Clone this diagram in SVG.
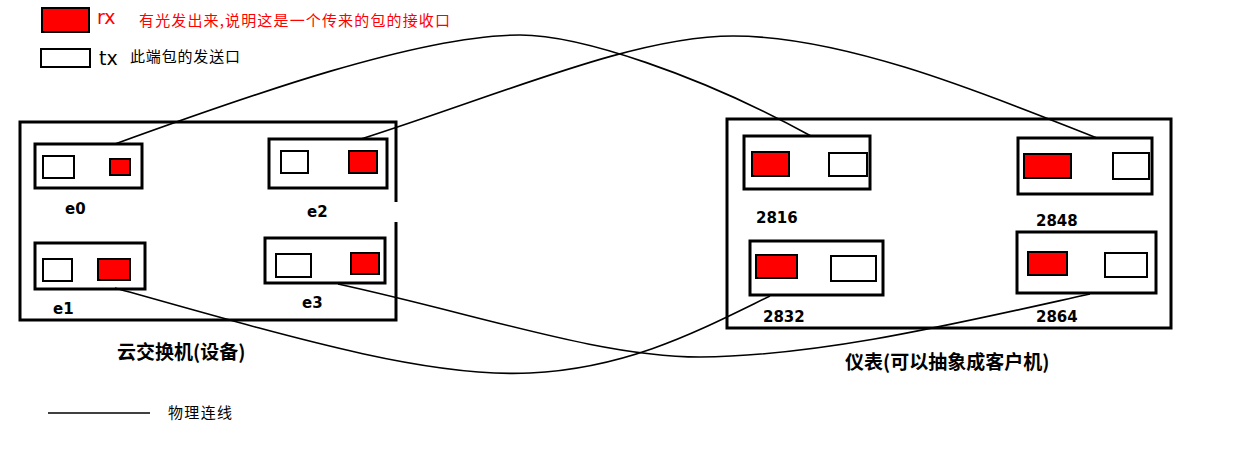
<svg xmlns="http://www.w3.org/2000/svg" width="1257" height="476" viewBox="0 0 1257 476">
<style>
.box{fill:#fff;stroke:#000;stroke-width:3}
.tx{fill:#fff;stroke:#000;stroke-width:2}
.rx{fill:#f00;stroke:#000;stroke-width:2}
.lbl{font-family:"DejaVu Sans",sans-serif;font-weight:bold;font-size:15px;fill:#000}
.cjk{font-family:"Noto Sans CJK SC",sans-serif;font-size:15px}
.title{font-family:"Noto Sans CJK SC",sans-serif;font-size:19px;font-weight:bold}
.wire{fill:none;stroke:#000;stroke-width:1.6}
</style>
<rect width="1257" height="476" fill="#fff"/>
<g id="legend">
<rect class="rx" x="42" y="8" width="47" height="24"/>
<text x="97" y="24" font-family="DejaVu Sans,sans-serif" font-size="19" fill="#f00">rx</text>
<text x="139" y="26" class="cjk" font-size="16" fill="#f00" textLength="311" lengthAdjust="spacing">有光发出来,说明这是一个传来的包的接收口</text>
<rect class="tx" x="41" y="49" width="49" height="18"/>
<text x="99" y="65" font-family="DejaVu Sans,sans-serif" font-size="19" fill="#000">tx</text>
<text x="130" y="62" class="cjk" font-size="16" fill="#000" textLength="110" lengthAdjust="spacing">此端包的发送口</text>
<line x1="48" y1="413" x2="150" y2="413" stroke="#000" stroke-width="1.6"/>
<text x="168" y="418" class="cjk" font-size="16" fill="#000" textLength="64" lengthAdjust="spacing">物理连线</text>
</g>
<g id="switch">
<path d="M396,202 V122 H20 V320 H396 V222" fill="none" stroke="#000" stroke-width="3"/>
<text x="117" y="359" class="title">云交换机(设备)</text>
</g>
<g id="e0">
<rect class="box" x="35" y="144" width="107" height="44"/>
<rect class="tx" x="43" y="156" width="31" height="22"/>
<rect class="rx" x="110" y="159" width="20" height="16"/>
<text x="65" y="214" class="lbl">e0</text>
</g>
<g id="e2">
<rect class="box" x="269" y="139" width="118" height="49"/>
<rect class="tx" x="281" y="151" width="27" height="22"/>
<rect class="rx" x="349" y="151" width="28" height="22"/>
<text x="307" y="217" class="lbl">e2</text>
</g>
<g id="e1">
<rect class="box" x="35" y="243" width="110" height="46"/>
<rect class="tx" x="43" y="259" width="29" height="22"/>
<rect class="rx" x="98" y="259" width="32" height="21"/>
<text x="53" y="314" class="lbl">e1</text>
</g>
<g id="e3">
<rect class="box" x="265" y="238" width="120" height="45"/>
<rect class="tx" x="276" y="254" width="35" height="23"/>
<rect class="rx" x="351" y="253" width="28" height="21"/>
<text x="302" y="308" class="lbl">e3</text>
</g>
<g id="meter">
<rect x="727" y="119" width="444" height="209" fill="none" stroke="#000" stroke-width="3"/>
<text x="845" y="369" class="title">仪表(可以抽象成客户机)</text>
</g>
<g id="p2816">
<rect class="box" x="744" y="136" width="126" height="53"/>
<rect class="rx" x="752" y="152" width="37" height="24"/>
<rect class="tx" x="829" y="153" width="38" height="23"/>
<text x="756" y="223" class="lbl">2816</text>
</g>
<g id="p2848">
<rect class="box" x="1018" y="138" width="134" height="56"/>
<rect class="rx" x="1024" y="154" width="47" height="24"/>
<rect class="tx" x="1113" y="153" width="36" height="26"/>
<text x="1036" y="226" class="lbl">2848</text>
</g>
<g id="p2832">
<rect class="box" x="750" y="241" width="133" height="54"/>
<rect class="rx" x="756" y="255" width="41" height="23"/>
<rect class="tx" x="831" y="256" width="45" height="25"/>
<text x="763" y="322" class="lbl">2832</text>
</g>
<g id="p2864">
<rect class="box" x="1017" y="232" width="139" height="61"/>
<rect class="rx" x="1028" y="252" width="39" height="23"/>
<rect class="tx" x="1105" y="253" width="42" height="24"/>
<text x="1036" y="322" class="lbl">2864</text>
</g>
<g id="connectors">
<path class="wire" d="M115,144 C250,95 420,35 520,35 C580,35 700,75 811,136"/>
<path class="wire" d="M361,139 C505,93 635,36 733,36 C850,36 1000,100 1097,138"/>
<path class="wire" d="M115,288 C300,340 430,378 530,373 C630,368 700,330 770,296"/>
<path class="wire" d="M338,284 C480,315 600,357 700,357 C820,356 950,325 1090,294"/>
</g>
</svg>
